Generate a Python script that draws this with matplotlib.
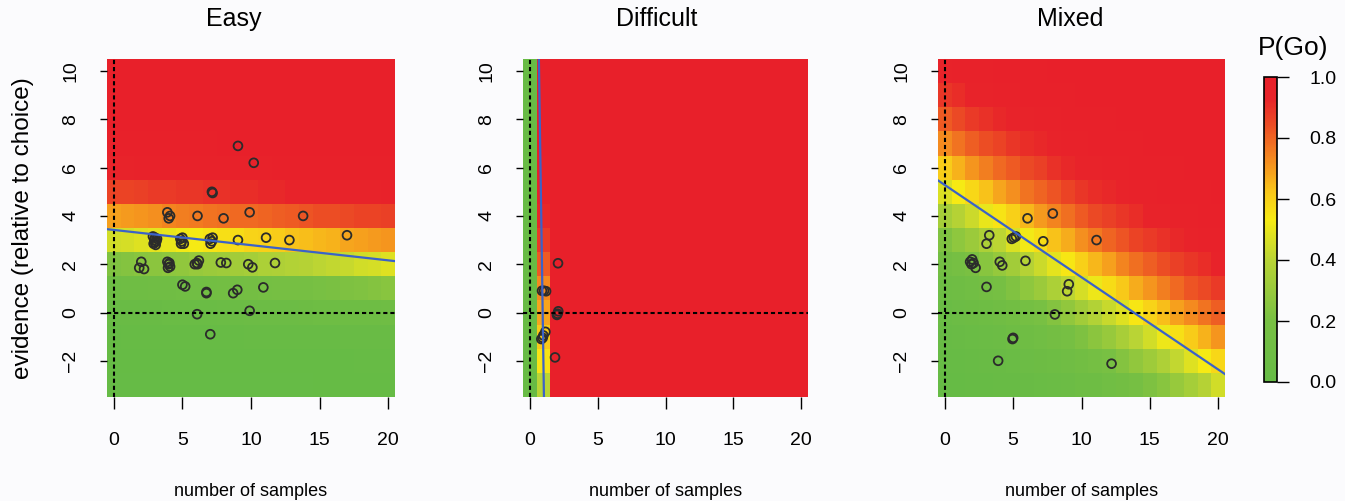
import numpy as np
import matplotlib
matplotlib.use("Agg")
import matplotlib.pyplot as plt
from matplotlib.colors import LinearSegmentedColormap

plt.rcParams['font.family'] = ['Liberation Sans', 'DejaVu Sans']

# -----------------------------------------------------------------------------
# Data
# -----------------------------------------------------------------------------
n_samples = list(range(0, 21))          # columns (x)
evidence = list(range(-3, 11))          # rows (y), bottom to top

# P(Go) grids, one row per evidence value (-3 ... 10), one column per sample count
easy_p = [
    [.00, .00, .00, .00, .00, .00, .00, .00, .00, .00, .00, .00, .00, .00, .00, .01, .01, .01, .01, .01, .01],
    [.01, .01, .01, .01, .01, .01, .01, .01, .01, .01, .01, .01, .01, .01, .01, .01, .01, .01, .02, .02, .02],
    [.01, .02, .02, .02, .02, .02, .02, .02, .02, .02, .03, .03, .03, .03, .03, .03, .03, .04, .04, .04, .04],
    [.04, .04, .04, .04, .05, .05, .05, .05, .06, .06, .07, .07, .07, .07, .08, .09, .09, .09, .10, .10, .11],
    [.10, .11, .11, .12, .12, .13, .13, .14, .15, .15, .16, .17, .18, .19, .19, .20, .21, .22, .23, .24, .25],
    [.23, .24, .25, .26, .27, .28, .30, .31, .32, .33, .34, .36, .37, .38, .39, .41, .42, .43, .45, .46, .48],
    [.45, .46, .48, .49, .50, .52, .53, .55, .56, .57, .59, .60, .61, .63, .64, .65, .66, .68, .69, .70, .71],
    [.69, .70, .71, .72, .74, .75, .76, .77, .78, .79, .79, .80, .81, .82, .83, .84, .84, .85, .86, .86, .87],
    [.86, .86, .87, .88, .88, .89, .89, .90, .90, .91, .91, .92, .92, .93, .93, .93, .94, .94, .94, .94, .95],
    [.94, .94, .95, .95, .95, .95, .95, .96, .96, .96, .96, .96, .97, .97, .97, .97, .97, .97, .98, .98, .98],
    [.98, .98, .98, .98, .98, .98, .98, .98, .99, .99, .99, .99, .99, .99, .99, .99, .99, .99, .99, .99, .99],
    [.99, .99, .99, .99, .99, .99, .99, .99, .99, .99, 1.0, 1.0, 1.0, 1.0, 1.0, 1.0, 1.0, 1.0, 1.0, 1.0, 1.0],
    [1.0, 1.0, 1.0, 1.0, 1.0, 1.0, 1.0, 1.0, 1.0, 1.0, 1.0, 1.0, 1.0, 1.0, 1.0, 1.0, 1.0, 1.0, 1.0, 1.0, 1.0],
    [1.0, 1.0, 1.0, 1.0, 1.0, 1.0, 1.0, 1.0, 1.0, 1.0, 1.0, 1.0, 1.0, 1.0, 1.0, 1.0, 1.0, 1.0, 1.0, 1.0, 1.0],
]

difficult_p = [
    [.03, .40, .99, 1.0, 1.0, 1.0, 1.0, 1.0, 1.0, 1.0, 1.0, 1.0, 1.0, 1.0, 1.0, 1.0, 1.0, 1.0, 1.0, 1.0, 1.0],
    [.03, .55, .99, 1.0, 1.0, 1.0, 1.0, 1.0, 1.0, 1.0, 1.0, 1.0, 1.0, 1.0, 1.0, 1.0, 1.0, 1.0, 1.0, 1.0, 1.0],
    [.03, .62, 1.0, 1.0, 1.0, 1.0, 1.0, 1.0, 1.0, 1.0, 1.0, 1.0, 1.0, 1.0, 1.0, 1.0, 1.0, 1.0, 1.0, 1.0, 1.0],
    [.03, .68, 1.0, 1.0, 1.0, 1.0, 1.0, 1.0, 1.0, 1.0, 1.0, 1.0, 1.0, 1.0, 1.0, 1.0, 1.0, 1.0, 1.0, 1.0, 1.0],
    [.03, .73, 1.0, 1.0, 1.0, 1.0, 1.0, 1.0, 1.0, 1.0, 1.0, 1.0, 1.0, 1.0, 1.0, 1.0, 1.0, 1.0, 1.0, 1.0, 1.0],
    [.03, .82, 1.0, 1.0, 1.0, 1.0, 1.0, 1.0, 1.0, 1.0, 1.0, 1.0, 1.0, 1.0, 1.0, 1.0, 1.0, 1.0, 1.0, 1.0, 1.0],
    [.03, .88, 1.0, 1.0, 1.0, 1.0, 1.0, 1.0, 1.0, 1.0, 1.0, 1.0, 1.0, 1.0, 1.0, 1.0, 1.0, 1.0, 1.0, 1.0, 1.0],
    [.03, .92, 1.0, 1.0, 1.0, 1.0, 1.0, 1.0, 1.0, 1.0, 1.0, 1.0, 1.0, 1.0, 1.0, 1.0, 1.0, 1.0, 1.0, 1.0, 1.0],
    [.03, .95, 1.0, 1.0, 1.0, 1.0, 1.0, 1.0, 1.0, 1.0, 1.0, 1.0, 1.0, 1.0, 1.0, 1.0, 1.0, 1.0, 1.0, 1.0, 1.0],
    [.03, .98, 1.0, 1.0, 1.0, 1.0, 1.0, 1.0, 1.0, 1.0, 1.0, 1.0, 1.0, 1.0, 1.0, 1.0, 1.0, 1.0, 1.0, 1.0, 1.0],
    [.03, .99, 1.0, 1.0, 1.0, 1.0, 1.0, 1.0, 1.0, 1.0, 1.0, 1.0, 1.0, 1.0, 1.0, 1.0, 1.0, 1.0, 1.0, 1.0, 1.0],
    [.03, .99, 1.0, 1.0, 1.0, 1.0, 1.0, 1.0, 1.0, 1.0, 1.0, 1.0, 1.0, 1.0, 1.0, 1.0, 1.0, 1.0, 1.0, 1.0, 1.0],
    [.03, .99, 1.0, 1.0, 1.0, 1.0, 1.0, 1.0, 1.0, 1.0, 1.0, 1.0, 1.0, 1.0, 1.0, 1.0, 1.0, 1.0, 1.0, 1.0, 1.0],
    [.03, .99, 1.0, 1.0, 1.0, 1.0, 1.0, 1.0, 1.0, 1.0, 1.0, 1.0, 1.0, 1.0, 1.0, 1.0, 1.0, 1.0, 1.0, 1.0, 1.0],
]

mixed_p = [
    [.01, .01, .02, .02, .03, .03, .04, .05, .06, .07, .09, .10, .13, .15, .18, .22, .25, .30, .34, .39, .45],
    [.02, .02, .03, .04, .04, .05, .07, .08, .10, .12, .14, .17, .20, .24, .28, .32, .37, .42, .48, .53, .58],
    [.03, .04, .05, .06, .07, .09, .11, .13, .16, .19, .22, .26, .30, .35, .40, .45, .51, .56, .61, .66, .71],
    [.05, .07, .08, .10, .12, .14, .17, .20, .24, .28, .33, .38, .43, .48, .54, .59, .64, .69, .73, .77, .81],
    [.09, .11, .13, .16, .19, .23, .27, .31, .36, .41, .46, .51, .57, .62, .67, .71, .75, .79, .83, .85, .88],
    [.15, .18, .21, .25, .29, .33, .39, .44, .49, .54, .60, .65, .69, .74, .78, .81, .84, .87, .89, .91, .93],
    [.23, .27, .31, .36, .41, .47, .52, .57, .63, .67, .72, .76, .80, .83, .86, .88, .90, .92, .93, .95, .96],
    [.34, .39, .44, .50, .55, .60, .65, .70, .74, .78, .82, .85, .87, .89, .91, .93, .94, .95, .96, .97, .97],
    [.47, .53, .58, .63, .68, .72, .77, .80, .83, .86, .89, .91, .92, .94, .95, .96, .97, .97, .98, .98, .99],
    [.61, .66, .71, .75, .79, .82, .85, .87, .90, .92, .93, .94, .95, .96, .97, .98, .98, .98, .99, .99, .99],
    [.73, .77, .81, .84, .86, .89, .91, .92, .94, .95, .96, .97, .97, .98, .98, .99, .99, .99, .99, .99, 1.0],
    [.82, .85, .88, .90, .92, .93, .94, .95, .96, .97, .98, .98, .98, .99, .99, .99, .99, .99, 1.0, 1.0, 1.0],
    [.89, .91, .93, .94, .95, .96, .97, .97, .98, .98, .99, .99, .99, .99, .99, 1.0, 1.0, 1.0, 1.0, 1.0, 1.0],
    [.93, .95, .96, .96, .97, .98, .98, .98, .99, .99, .99, .99, .99, 1.0, 1.0, 1.0, 1.0, 1.0, 1.0, 1.0, 1.0],
]

# individual subjects / trials
easy_x = [9.05, 10.2, 7.15, 7.2, 3.9, 4.0, 4.1, 6.1, 8.0, 9.9, 13.8, 17.0,
          2.85, 3.0, 3.1, 2.9, 3.05, 3.15, 2.95, 3.0,
          4.85, 4.95, 5.1, 4.9, 5.0,
          7.0, 7.15, 7.05, 7.2,
          9.05, 11.1, 12.8,
          2.0, 1.85, 2.2,
          3.9, 4.0, 4.1, 4.05, 3.95,
          5.9, 6.05, 6.2, 6.1,
          7.8, 8.2, 9.8, 10.1, 11.75,
          5.0, 5.2, 6.75, 6.75, 8.7, 9.0, 10.9,
          6.07, 9.9, 7.03]
easy_y = [6.9, 6.2, 5.0, 4.95, 4.15, 3.9, 4.0, 4.0, 3.9, 4.15, 4.0, 3.2,
          3.15, 3.1, 2.95, 2.85, 2.8, 3.05, 3.0, 2.9,
          3.05, 2.95, 2.85, 2.85, 3.1,
          3.05, 2.95, 2.85, 3.1,
          3.0, 3.1, 3.0,
          2.1, 1.85, 1.8,
          2.1, 2.0, 1.9, 2.05, 1.85,
          2.0, 2.05, 2.15, 2.0,
          2.07, 2.05, 2.0, 1.87, 2.05,
          1.15, 1.08, 0.85, 0.8, 0.8, 0.94, 1.04,
          -0.07, 0.07, -0.9]

difficult_x = [2.08, 0.9, 1.05, 1.2, 2.0, 2.1, 2.05, 0.85, 1.0, 1.15, 0.95, 1.86]
difficult_y = [2.04, 0.9, 0.9, 0.88, -0.1, 0.05, -0.05, -1.1, -0.95, -0.8, -1.05, -1.86]

mixed_x = [6.05, 7.9, 3.25, 3.05, 4.9, 5.05, 5.2, 7.2, 11.1,
           1.85, 2.0, 2.1, 2.25, 1.95, 4.02, 4.2, 5.9,
           3.05, 9.07, 8.95, 8.05, 5.0, 4.95, 3.9, 12.2]
mixed_y = [3.9, 4.1, 3.2, 2.85, 3.05, 3.1, 3.15, 2.95, 3.0,
           2.1, 2.2, 2.05, 1.85, 2.0, 2.1, 1.95, 2.14,
           1.06, 1.17, 0.88, -0.08, -1.05, -1.1, -2.0, -2.12]

# decision boundaries (intercept, slope)
easy_line = (3.42, -0.063)
difficult_line = (35.7, -37.6)
mixed_line = (5.28, -0.382)

# -----------------------------------------------------------------------------
# Styling
# -----------------------------------------------------------------------------
bg = "#fbfbfd"
line_blue = "#3b62c8"
point_color = "#2b2b2b"
cmap = LinearSegmentedColormap.from_list("pgo", [
    (0.00, "#66bb46"),
    (0.20, "#78c043"),
    (0.40, "#b9d435"),
    (0.53, "#f7eb14"),
    (0.62, "#f9c91a"),
    (0.72, "#f5901f"),
    (0.85, "#ec4a25"),
    (0.93, "#e8242a"),
    (1.00, "#e8202a"),
])

W, H = 1345, 501
fig = plt.figure(figsize=(W / 100, H / 100), dpi=100, facecolor=bg)


def px_axes(left, top, right, bottom):
    return fig.add_axes([left / W, 1 - bottom / H, (right - left) / W, (bottom - top) / H])


def draw_panel(ax, grid, px, py, line, title, title_x):
    extent = [n_samples[0] - 0.5, n_samples[-1] + 0.5, evidence[0] - 0.5, evidence[-1] + 0.5]
    im = ax.imshow(np.array(grid), origin='lower', extent=extent, aspect='auto',
                   cmap=cmap, vmin=0, vmax=1, interpolation='nearest')
    dash = (0, (2, 1.4))
    ax.axvline(0, color='black', lw=1.5, ls=dash)
    ax.axhline(0, color='black', lw=1.5, ls=dash)
    ax.axline((0, line[0]), slope=line[1], color=line_blue, lw=1.6)
    ax.scatter(px, py, s=40, facecolors='none', edgecolors=point_color, linewidths=1.3)
    ax.set_xlim(extent[0], extent[1])
    ax.set_ylim(extent[2], extent[3])

    ax.set_xticks([0, 5, 10, 15, 20])
    ax.set_yticks([-2, 0, 2, 4, 6, 8, 10])
    ax.tick_params(axis='x', length=8.5, width=1, pad=17, labelsize=14)
    ax.tick_params(axis='y', length=5, width=1, pad=15, labelsize=14)
    plt.setp(ax.get_yticklabels(), rotation=90, va='center')
    for s in ax.spines.values():
        s.set_visible(False)

    ax.set_xlabel("number of samples", fontsize=13, labelpad=24)
    ax.set_title(title, fontsize=18, pad=24, x=title_x)
    return im


ax1 = px_axes(107, 59, 395, 397)
ax2 = px_axes(523, 59, 808, 397)
ax3 = px_axes(938, 59, 1225, 397)

draw_panel(ax1, easy_p, easy_x, easy_y, easy_line, "Easy", 0.44)
draw_panel(ax2, difficult_p, difficult_x, difficult_y, difficult_line, "Difficult", 0.47)
im = draw_panel(ax3, mixed_p, mixed_x, mixed_y, mixed_line, "Mixed", 0.46)

ax1.set_ylabel("evidence (relative to choice)", fontsize=17.5, labelpad=20)

# colour bar
cax = px_axes(1264, 77, 1277, 382)
cb = fig.colorbar(im, cax=cax, ticks=[0, 0.2, 0.4, 0.6, 0.8, 1.0])
cb.ax.set_yticklabels(["0.0", "0.2", "0.4", "0.6", "0.8", "1.0"])
cb.ax.tick_params(length=8.5, width=1, pad=15, labelsize=14)
cb.outline.set_linewidth(1.2)
fig.text(1293 / W, 1 - 48 / H, "P(Go)", ha='center', va='center', fontsize=19)

fig.savefig("out.png", dpi=100, facecolor=bg)
